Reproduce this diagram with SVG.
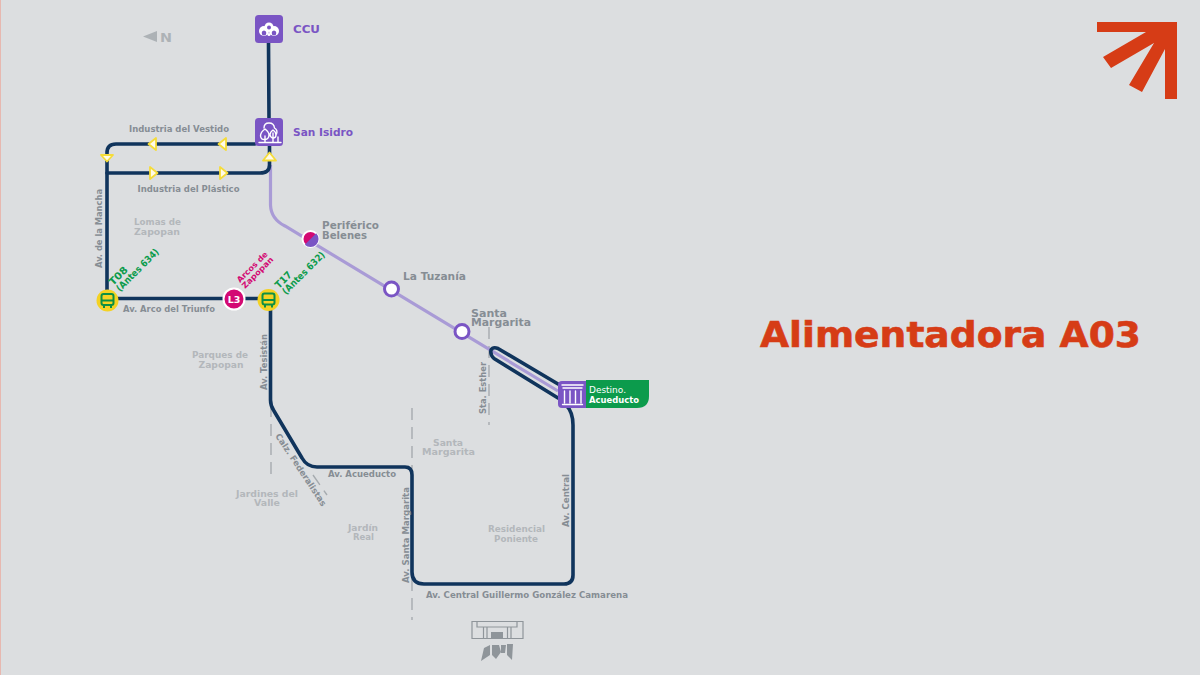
<svg xmlns="http://www.w3.org/2000/svg" width="1200" height="675" viewBox="0 0 1200 675">
<style>
text{font-family:"DejaVu Sans","Open Sans",sans-serif}
.st{font-weight:700;font-size:10px;fill:#868d94}
.rd{font-weight:700;font-size:8.600px;fill:#868d94}
.nb{font-weight:700;font-size:8.800px;fill:#b3b7bb;text-anchor:middle}
.pu{font-weight:700;font-size:10.500px;fill:#7a55c4}
.gr{font-weight:700;fill:#0c9b4c;font-size:10px}
.gn{font-weight:700;fill:#0c9b4c;font-size:9.500px}
.pk{font-weight:700;fill:#d30a73;font-size:7.800px}
.dk{fill:none;stroke:#10345c;stroke-width:3.6;stroke-linecap:round;stroke-linejoin:round}
.lt{fill:none;stroke:#a99bd6;stroke-width:3.2}
.da{fill:none;stroke:#a6abaf;stroke-width:1.4;stroke-dasharray:12 7}
.ar{fill:#fffbe8;stroke:#f5dc3a;stroke-width:1.800;stroke-linejoin:round}
.ic{fill:none;stroke:#fff;stroke-width:1.400;stroke-linecap:round;stroke-linejoin:round}
.bb{fill:#f4d224}
.bu{fill:none;stroke:#0c8f45;stroke-width:2;stroke-linejoin:round}
.sq{fill:#7a55c4}
</style>
<rect width="1200" height="675" fill="#dcdee0"/>
<rect x="0" y="0" width="1" height="675" fill="#e7b8b0"/>

<g id="connectors">
<path class="da" d="M271 405V478"/>
<path class="da" d="M412 408V620"/>
<path class="da" d="M489 327V425"/>
<path class="da" d="M313 475L327 495" stroke-dasharray="9 6"/>
<path class="lt" d="M270.500 165V205Q271 219 285 226L558 391"/>
<path class="dk" d="M268.500 43L269 118"/>
<path class="dk" d="M269.500 146V165Q269.500 173 260 173H107"/>
<path class="dk" d="M255 144H116Q107 144 107 153V300"/>
<path class="dk" d="M107 298.500H268"/>
<path class="dk" d="M270.500 300V400Q270.500 406 274 411L302 458Q307 467 317 467H405Q412 467 412 475V572Q412 584 424 584H564Q573 584 573 575V425Q573 412 566 405"/>
<path class="dk" d="M558 384L498 348.500Q493 346.500 491 350Q490 355 494 358.500L558 398"/>
<path class="ar" d="M148.500 144L156 138V150Z"/>
<path class="ar" d="M218.500 144L226 138V150Z"/>
<path class="ar" d="M157.500 173L150 167V179Z"/>
<path class="ar" d="M227.500 173L220 167V179Z"/>
<path class="ar" d="M107 161.500L101 155H113Z"/>
<path class="ar" d="M269.500 152.500L263 160.500H276Z"/>
</g>

<g id="compass"><path d="M143 36.500L157 31V42Z" fill="#adb2b6"/><text x="160" y="41.500" font-size="12" font-weight="700" fill="#adb2b6" textLength="12" lengthAdjust="spacingAndGlyphs">N</text></g>

<g id="ccu"><rect class="sq" x="255" y="15" width="28" height="28" rx="3.500"/>
<circle cx="264" cy="31" r="5" fill="#fff"/><circle cx="274" cy="31" r="5" fill="#fff"/><circle cx="269" cy="27" r="4.500" fill="#fff"/><ellipse cx="264" cy="33" rx="2.300" ry="2.500" fill="#7a55c4"/><ellipse cx="274" cy="33" rx="2.300" ry="2.500" fill="#7a55c4"/><circle cx="269" cy="27.500" r="2" fill="#7a55c4"/><rect x="258" y="36" width="22" height="3" fill="#7a55c4"/><circle cx="269" cy="34.500" r="1.600" fill="#fff"/>
<text class="pu" x="293" y="33" textLength="27" lengthAdjust="spacingAndGlyphs">CCU</text></g>

<g id="san-isidro"><rect class="sq" x="255" y="118" width="28" height="28" rx="3.500"/>
<path class="ic" d="M259 142.500H281M265 142V136M273 142V133M278 142V137M264 128Q264 123 269 123Q274 123 274.500 128Q278 130 276.500 134"/><path class="ic" d="M265 129Q260.500 132 260.500 136Q261 140 265 139.500Q269 139 269 135Q269 132 265 129ZM273 130Q270 132 270 135Q271 138 273 138Q276 138 276 135Q276 132 273 130Z"/><text class="pu" x="293" y="136" textLength="60" lengthAdjust="spacingAndGlyphs">San Isidro</text></g>

<g id="periferico-belenes"><circle cx="310.500" cy="239" r="8" fill="#d30a73" stroke="#fff" stroke-width="2"/><path d="M316.200 233.300A8 8 0 0 1 304.800 244.700Z" fill="#7a55c4"/><text class="st" x="322" y="229" textLength="57" lengthAdjust="spacingAndGlyphs">Periférico</text><text class="st" x="322" y="238.500" textLength="45" lengthAdjust="spacingAndGlyphs">Belenes</text></g>

<g id="la-tuzania"><circle cx="391.500" cy="289" r="7" fill="#fff" stroke="#7a55c4" stroke-width="3"/><text class="st" x="403" y="280" textLength="63" lengthAdjust="spacingAndGlyphs">La Tuzanía</text></g>

<g id="santa-margarita"><circle cx="462" cy="331.500" r="7" fill="#fff" stroke="#7a55c4" stroke-width="3"/><text class="st" x="471" y="316.500" textLength="36" lengthAdjust="spacingAndGlyphs">Santa</text><text class="st" x="471" y="326" textLength="60" lengthAdjust="spacingAndGlyphs">Margarita</text></g>

<g id="acueducto"><path d="M586 380H649V396Q649 408 637 408H586Z" fill="#0c9b4c"/><path d="M562 381H586V408H562Q558 408 558 404V385Q558 381 562 381Z" fill="#7a55c4"/>
<path class="ic" stroke-width="1.300" d="M562 385H583M563 388H582"/><path class="ic" stroke-width="2.300" d="M564.500 391V403M570 391V403M575.500 391V403M581 391V403"/><path class="ic" d="M562.500 404.500H582.500"/>
<text x="589" y="393" font-size="8.500" font-weight="400" fill="#fff" textLength="37" lengthAdjust="spacingAndGlyphs">Destino.</text><text x="589" y="402.500" font-size="8.500" font-weight="700" fill="#fff" textLength="50" lengthAdjust="spacingAndGlyphs">Acueducto</text></g>

<g id="t08"><circle class="bb" cx="107.500" cy="300.500" r="11"/><rect class="bu" x="101.500" y="294" width="12" height="11" rx="2"/><path class="bu" d="M101.500 300.500H113.500M104 305V308M111 305V308"/><text class="gr" transform="translate(113 286) rotate(-45)" textLength="22" lengthAdjust="spacingAndGlyphs">T08</text><text class="gn" transform="translate(120 292) rotate(-45)" textLength="56" lengthAdjust="spacingAndGlyphs">(Antes 634)</text></g>

<g id="l3"><circle cx="234" cy="299" r="10.500" fill="#d30a73" stroke="#fff" stroke-width="2"/><text x="234" y="302.500" font-size="9.500" font-weight="700" fill="#fff" text-anchor="middle">L3</text><text class="pk" transform="translate(240 283) rotate(-45)" textLength="40" lengthAdjust="spacingAndGlyphs">Arcos de</text><text class="pk" transform="translate(245 289) rotate(-45)" textLength="41" lengthAdjust="spacingAndGlyphs">Zapopan</text></g>

<g id="t17"><circle class="bb" cx="268.500" cy="300" r="11"/><rect class="bu" x="262.500" y="293.500" width="12" height="11" rx="2"/><path class="bu" d="M262.500 300H274.500M265 304.500V307.500M272 304.500V307.500"/><text class="gr" transform="translate(279 289) rotate(-45)" textLength="19" lengthAdjust="spacingAndGlyphs">T17</text><text class="gn" transform="translate(286 295) rotate(-45)" textLength="56" lengthAdjust="spacingAndGlyphs">(Antes 632)</text></g>

<g id="street-labels">
<text class="rd" x="129" y="132" textLength="100" lengthAdjust="spacingAndGlyphs">Industria del Vestido</text>
<text class="rd" x="137.500" y="192" textLength="102" lengthAdjust="spacingAndGlyphs">Industria del Plástico</text>
<text class="rd" x="123" y="312" textLength="92" lengthAdjust="spacingAndGlyphs">Av. Arco del Triunfo</text>
<text class="rd" transform="translate(102 268) rotate(-90)" textLength="79" lengthAdjust="spacingAndGlyphs">Av. de la Mancha</text>
<text class="rd" transform="translate(267 390) rotate(-90)" textLength="56" lengthAdjust="spacingAndGlyphs">Av. Tesistán</text>
<text class="rd" transform="translate(275 436) rotate(56.500)" textLength="85" lengthAdjust="spacingAndGlyphs">Calz. Federalistas</text>
<text class="rd" x="328" y="477" textLength="68" lengthAdjust="spacingAndGlyphs">Av. Acueducto</text>
<text class="rd" transform="translate(408.500 583) rotate(-90)" textLength="96" lengthAdjust="spacingAndGlyphs">Av. Santa Margarita</text>
<text class="rd" x="426" y="598" textLength="202" lengthAdjust="spacingAndGlyphs">Av. Central Guillermo González Camarena</text>
<text class="rd" transform="translate(569 527) rotate(-90)" textLength="53" lengthAdjust="spacingAndGlyphs">Av. Central</text>
<text class="rd" transform="translate(486 414) rotate(-90)" textLength="52" lengthAdjust="spacingAndGlyphs">Sta. Esther</text>
</g>

<g id="neighbourhoods">
<text class="nb" x="157.500" y="225" textLength="47" lengthAdjust="spacingAndGlyphs">Lomas de</text><text class="nb" x="157" y="234.500" textLength="46" lengthAdjust="spacingAndGlyphs">Zapopan</text>
<text class="nb" x="220" y="358" textLength="56" lengthAdjust="spacingAndGlyphs">Parques de</text><text class="nb" x="221" y="367.500" textLength="45" lengthAdjust="spacingAndGlyphs">Zapopan</text>
<text class="nb" x="448" y="445.500" textLength="30" lengthAdjust="spacingAndGlyphs">Santa</text><text class="nb" x="448.500" y="455" textLength="53" lengthAdjust="spacingAndGlyphs">Margarita</text>
<text class="nb" x="267" y="496.500" textLength="62" lengthAdjust="spacingAndGlyphs">Jardines del</text><text class="nb" x="267" y="505.500" textLength="26" lengthAdjust="spacingAndGlyphs">Valle</text>
<text class="nb" x="363" y="530.500" textLength="30" lengthAdjust="spacingAndGlyphs">Jardín</text><text class="nb" x="363.500" y="540" textLength="21" lengthAdjust="spacingAndGlyphs">Real</text>
<text class="nb" x="516.500" y="532" textLength="57" lengthAdjust="spacingAndGlyphs">Residencial</text><text class="nb" x="516" y="541.500" textLength="44" lengthAdjust="spacingAndGlyphs">Poniente</text>
</g>

<g id="station-icon" fill="none" stroke="#8f959a" stroke-width="1.200">
<path d="M472 621.500H523V638.500H472ZM477 621.500V627H517V621.500M483.500 627V638.500M487 627V638.500M507.500 627V638.500M511 627V638.500"/>
<rect x="491" y="632" width="12" height="6.500" fill="#8f959a" stroke="none"/>
<path d="M484 648L490 645L490 655L481 661ZM492 645L499 645L501 652L496 659L492 655ZM501 645L506 645L505 653L501 653ZM507 644L513 644L512 660L507 655Z" fill="#8f959a" stroke="none"/>
</g>

<g id="logo"><path fill="#d63c16" d="M1097 22H1177V99H1165V49L1142 92L1129 85L1154 43L1111 68L1103 57L1146 32H1097Z"/></g>

<text x="760" y="347" font-size="35" font-weight="700" fill="#d63c16" stroke="#d63c16" stroke-width="0.600" textLength="381" lengthAdjust="spacingAndGlyphs">Alimentadora A03</text>
</svg>
